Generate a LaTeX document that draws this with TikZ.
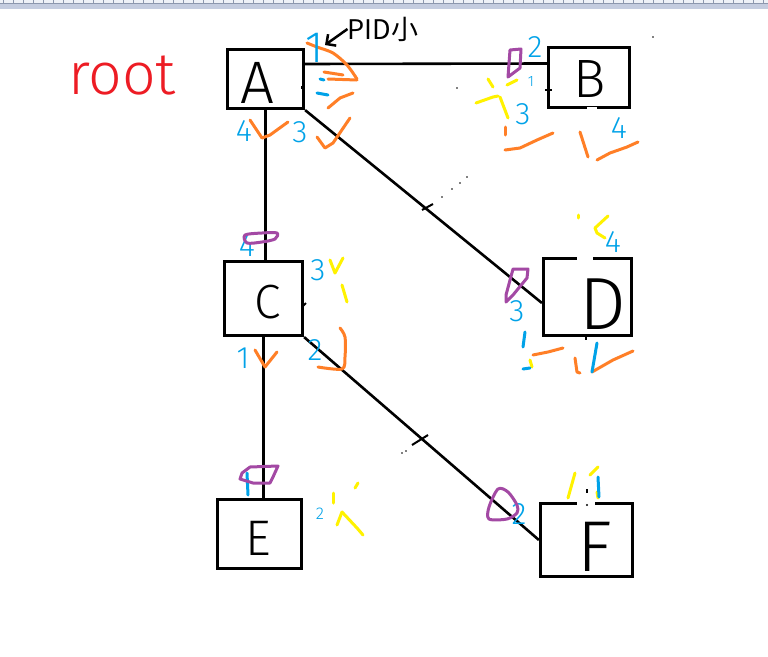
\documentclass[tikz,border=0pt]{standalone}
\usepackage{fontspec}
\usepackage{tikz}
\usetikzlibrary{arrows,arrows.meta,positioning}
\newfontfamily\pen{Fira Sans Light}
\newfontfamily\cjk{Noto Sans CJK SC}
\definecolor{pblue}{HTML}{00A2E8}
\definecolor{porange}{HTML}{FF7F27}
\definecolor{pyellow}{HTML}{FFF200}
\definecolor{ppurple}{HTML}{A349A4}
\definecolor{pred}{HTML}{ED1C24}
\definecolor{rulerbg}{HTML}{EEF1F7}
\definecolor{rulerband}{HTML}{C4CCDF}
\definecolor{rulertick}{HTML}{8C97AE}
\tikzstyle{box} = [rectangle, draw=black, line width=3.2pt, inner sep=0pt]
\tikzstyle{ltr} = [black, inner sep=0pt]
\tikzstyle{num} = [pblue, font=\pen\fontsize{31}{31}\selectfont, inner sep=0pt]
\tikzstyle{wire} = [black, line width=2.6pt]
\tikzstyle{blu} = [pblue, line width=3pt, line cap=round, line join=round]
\tikzstyle{org} = [porange, line width=3pt, line cap=round, line join=round]
\tikzstyle{yel} = [pyellow, line width=3pt, line cap=round, line join=round]
\tikzstyle{pur} = [ppurple, line width=3pt, line join=round]
\tikzstyle{gap} = [white, line width=4.5pt]

\begin{document}
\begin{tikzpicture}[x=1pt, y=-1pt]
	\useasboundingbox (0,0) rectangle (768,656);
	\fill[white] (0,0) rectangle (768,656);
	% ruler strip
	\fill[rulerbg] (0,0) rectangle (768,3.5);
	\fill[rulerband] (0,3.5) rectangle (768,9);
	\foreach \x in {3,13,...,763}
		\draw[rulertick, line width=0.8pt] (\x,0) -- (\x,3.5);
	\draw[rulertick, line width=0.6pt] (0,3.5) -- (768,3.5);

	% bridges
	\node[box, minimum width=76pt, minimum height=59pt] (A) at (265.5,79) {};
	\node[box, minimum width=81pt, minimum height=60pt] (B) at (589,77.5) {};
	\node[box, minimum width=78pt, minimum height=74pt] (C) at (263.5,298.5) {};
	\node[box, minimum width=88pt, minimum height=77pt] (D) at (587.5,297) {};
	\node[box, minimum width=84pt, minimum height=69pt] (E) at (259.5,534) {};
	\node[box, minimum width=92pt, minimum height=73pt] (F) at (586.5,540) {};

	\node[ltr, font=\pen\fontsize{60}{60}\selectfont] (lA) at ([xshift=-8pt,yshift=-4pt]A.center) {A};
	\node[ltr, font=\pen\fontsize{54}{54}\selectfont] (lB) at ([xshift=1pt,yshift=-2pt]B.center) {B};
	\node[ltr, font=\pen\fontsize{48}{48}\selectfont] (lC) at ([xshift=4pt,yshift=-4pt]C.center) {C};
	\node[ltr, font=\pen\fontsize{74}{74}\selectfont] (lD) at ([xshift=15pt,yshift=-7pt]D.center) {D};
	\node[ltr, font=\pen\fontsize{50}{50}\selectfont] (lE) at ([xshift=-1pt,yshift=-4pt]E.center) {E};
	\node[ltr, font=\pen\fontsize{72}{72}\selectfont] (lF) at ([xshift=8pt,yshift=-7pt]F.center) {F};

	% links
	\draw[wire] ([yshift=15pt]A.east) -- ([yshift=14pt]B.west);
	\draw[wire] (A.south east) -- ([yshift=-6pt]D.west);
	\draw[wire] (A.south) -- (A.south |- C.north);
	\draw[wire] (C.south) -- (C.south |- E.north);
	\draw[wire] (C.south east) -- (F.west);
	\draw[black, line width=2pt] (422,210) -- (433,204);
	\draw[black, line width=2pt] (412,445) -- (428,435);
	\foreach \p in {(442,197),(452,189),(460,183),(467,177),(402,453),(406,451),(457,88),(653,37)}
		\fill[black] \p circle (0.8pt);
	\draw[black, line width=2pt] (545,90) -- (552,90);
	\draw[black, line width=2pt] (302,307) -- (306,303);
	\draw[black, line width=2pt] (302,86) -- (302,89);

	% erased bits of the frames
	\draw[gap] (587,109) -- (597,109);
	\draw[gap] (577,257.5) -- (593,257.5);
	\draw[gap] (577,503) -- (595,503);
	\draw[black, line width=2pt] (586,335) -- (586,340);
	\draw[black, line width=2pt] (587,489) -- (587,493);
	\fill[black] (587,505) circle (1.2pt);

	% labels
	\node[pred, font=\pen\fontsize{59}{59}\selectfont, inner sep=0pt] (root) at (122,75) {root};
	\node[black, font=\cjk\fontsize{27}{27}\selectfont, inner sep=0pt] (pid) at (383,29) {PID小};
	\coordinate (pidtip) at (325,45);
	\draw[black, line width=2.5pt, -{Straight Barb[length=7pt,width=14pt]}] (pid.west) -- (pidtip);

	% orange marks
	\draw[org] plot[smooth] coordinates {(307,43) (317,47) (333,53) (347,65) (357,79)};
	\draw[org] (324,72) -- (343,75);
	\draw[org] (328,79) -- (357,80);
	\draw[org] (328,108) -- (340,98) -- (353,93);
	\draw[org] (317,137) -- (325,148) -- (333,143) -- (350,118);
	\draw[org] (250,120) -- (262,138) -- (270,135) -- (288,122);
	\draw[org] (505,127) -- (505,135);
	\draw[org] (505,150) -- (520,148) -- (537,140) -- (553,133);
	\draw[org] (580,132) -- (588,157);
	\draw[org] (597,160) -- (610,153) -- (627,147) -- (638,142);
	\draw[org] (255,350) -- (265,367) -- (277,352);
	\draw[org] plot[smooth] coordinates {(340,328) (345,337) (345,357) (342,369) (318,367)};
	\draw[org] (533,355) -- (548,352) -- (563,348);
	\draw[org] (575,358) -- (577,372) -- (580,373);
	\draw[org] (592,372) -- (613,360) -- (633,351);

	% yellow marks
	\draw[yel] (488,79) -- (493,87);
	\draw[yel] (507,85) -- (517,80);
	\draw[yel] (476,103) -- (493,97) -- (498,96);
	\draw[yel] (500,97) -- (508,118);
	\draw[yel] (330,260) -- (335,273) -- (343,258);
	\draw[yel] (342,285) -- (347,302);
	\draw[yel] (608,216) -- (595,228) -- (597,233) -- (605,238);
	\draw[yel] (578,215) -- (578,218);
	\draw[yel] (530,360) -- (532,367);
	\draw[yel] (333,493) -- (333,503);
	\draw[yel] (358,483) -- (355,488);
	\draw[yel] (342,512) -- (337,525);
	\draw[yel] (342,512) -- (357,528) -- (363,535);
	\draw[yel] (575,473) -- (568,498);
	\draw[yel] (598,467) -- (590,475);
	\draw[yel] (597,492) -- (598,498);

	% port numbers
	\node[num, font=\pen\fontsize{44}{44}\selectfont] (a1) at (315,48) {1};
	\node[num] (a4) at (244,131) {4};
	\node[num] (a3) at (300,132) {3};
	\node[num] (b2) at (535,47) {2};
	\node[num, font=\pen\fontsize{15}{15}\selectfont] (b1) at (531,82) {1};
	\node[num] (b3) at (523,114) {3};
	\node[num] (b4) at (619,128) {4};
	\node[num] (c4) at (247,246) {4};
	\node[num] (c3) at (318,270) {3};
	\node[num] (c1) at (243,358) {1};
	\node[num] (c2) at (315,350) {2};
	\node[num] (d4) at (613,242) {4};
	\node[num] (d3) at (517,311) {3};
	\node[num] (f2) at (519,514) {2};
	\node[num, font=\pen\fontsize{17}{17}\selectfont] (e2) at (320,514) {2};
	\draw[blu] (320,79) -- (324,80);
	\draw[blu] (317,93) -- (328,95);
	\draw[blu] (597,343) -- (592,372);
	\draw[blu] (247,473) -- (248,495);
	\draw[blu] (598,477) -- (599,497);
	\draw[blu] (525,332) -- (523,347);
	\draw[blu] (523,369) -- (530,368);

	% purple rings
	\draw[pur] (510,50) -- (521,49) -- (520,68) -- (508,77) -- cycle;
	\draw[pur] plot[smooth cycle] coordinates {(245,235) (262,233) (277,233) (275,239) (262,242) (247,243)};
	\draw[pur] (513,269) -- (528,269) -- (527,278) -- (513,295) -- (506,302) -- (506,295) -- cycle;
	\draw[pur] (242,473) -- (250,467) -- (278,466) -- (273,477) -- (270,483) -- (253,483) -- (240,479) -- cycle;
	\draw[pur] plot[smooth cycle] coordinates {(498,489) (508,492) (517,505) (517,513) (507,519) (489,519) (489,507)};
\end{tikzpicture}
\end{document}
